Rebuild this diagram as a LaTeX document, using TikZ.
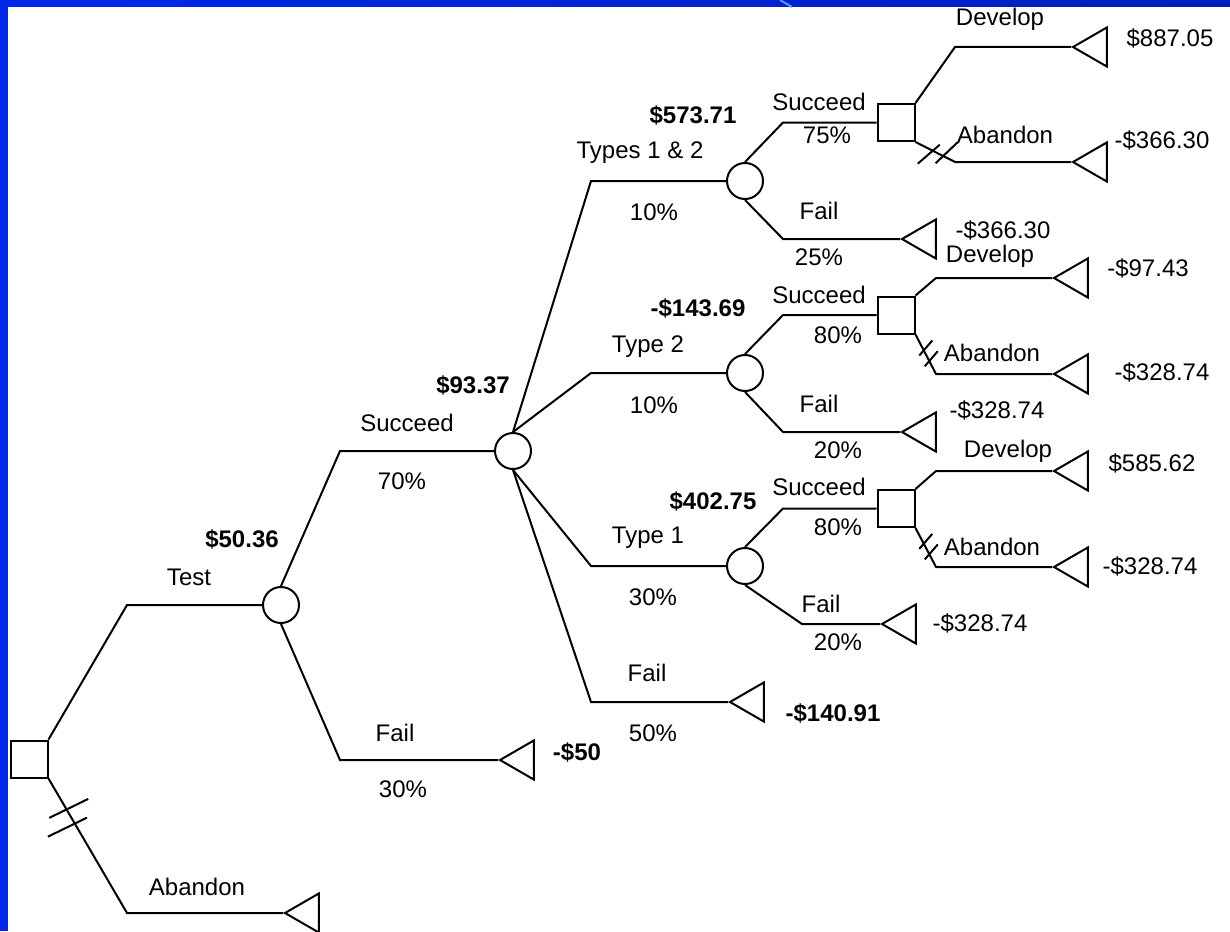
\documentclass[tikz,border=0pt]{standalone}
\usepackage{fontspec}
\setmainfont{Liberation Sans}
\usetikzlibrary{shapes.geometric,calc}
\definecolor{framebl}{RGB}{0,40,235}
\definecolor{framedk}{RGB}{0,30,190}
\definecolor{swoosh}{RGB}{90,150,255}
\tikzset{
  chance/.style={circle,draw,line width=1pt,minimum size=18pt,inner sep=0pt},
  decision/.style={rectangle,draw,line width=1pt,minimum size=18.5pt,inner sep=0pt},
  payoff/.style={regular polygon,regular polygon sides=3,shape border rotate=90,draw,line width=1pt,minimum size=22.5pt,inner sep=0pt,anchor=corner 1},
  lbl/.style={font=\fontsize{12}{14}\selectfont,inner sep=0pt},
  val/.style={font=\fontsize{12}{14}\selectfont\bfseries,inner sep=0pt},
  branch/.style={line width=1pt},
  hash/.style={line width=1pt}
}
\begin{document}
\begin{tikzpicture}[x=0.5pt,y=-0.5pt]
\useasboundingbox (0,0) rectangle (1230,931);
% frame
\fill[framebl] (0,0) rectangle (8,931);
\shade[left color=framebl,right color=framedk] (0,0) rectangle (1230,7);
\draw[swoosh,line width=1pt] (780,0) -- (792,7);
% decision and chance nodes
\node[decision] (d0) at (29,759) {};
\node[chance] (c1) at (281,605) {};
\node[chance] (c2) at (513,451) {};
\node[chance] (c3) at (745,181) {};
\node[chance] (c4) at (745,373) {};
\node[chance] (c5) at (745,566) {};
\node[decision] (d1) at (896,122.5) {};
\node[decision] (d2) at (896,315) {};
\node[decision] (d3) at (896,508.5) {};
% payoffs
\node[payoff] (t0) at (283,913) {};
\node[payoff] (t1) at (498,760) {};
\node[payoff] (t2) at (728,702) {};
\node[payoff] (t3) at (900,239) {};
\node[payoff] (t4) at (1071,47) {};
\node[payoff] (t5) at (1071,162) {};
\node[payoff] (t6) at (900,432) {};
\node[payoff] (t7) at (1052,278) {};
\node[payoff] (t8) at (1052,374) {};
\node[payoff] (t9) at (880,624) {};
\node[payoff] (t10) at (1052,471) {};
\node[payoff] (t11) at (1052,567) {};
% kink columns
\coordinate (k0) at (127,0);
\coordinate (k1) at (340,0);
\coordinate (k2) at (591,0);
\coordinate (k3) at (783,0);
\coordinate (k4) at (802,0);
\coordinate (k5) at (955,0);
\coordinate (k6) at (936,0);
% branches
\draw[branch] (d0.north east) -- (k0 |- c1) -- (c1);
\draw[branch] (d0.south east) -- (k0 |- t0.corner 1) -- (t0.corner 1);
\draw[branch] (c1.north) -- (k1 |- c2) -- (c2);
\draw[branch] (c1.south) -- (k1 |- t1.corner 1) -- (t1.corner 1);
\draw[branch] (c2.north) -- (k2 |- c3) -- (c3);
\draw[branch] (c2.north) -- (k2 |- c4) -- (c4);
\draw[branch] (c2.south) -- (k2 |- c5) -- (c5);
\draw[branch] (c2.south) -- (k2 |- t2.corner 1) -- (t2.corner 1);
\draw[branch] (c3.north) -- (k3 |- d1) -- (d1);
\draw[branch] (c3.south) -- (k3 |- t3.corner 1) -- (t3.corner 1);
\draw[branch] (c4.north) -- (k3 |- d2) -- (d2);
\draw[branch] (c4.south) -- (k3 |- t6.corner 1) -- (t6.corner 1);
\draw[branch] (c5.north) -- (k3 |- d3) -- (d3);
\draw[branch] (c5.south) -- (k4 |- t9.corner 1) -- (t9.corner 1);
\draw[branch] (d1.north east) -- (k5 |- t4.corner 1) -- (t4.corner 1);
\draw[branch] (d1.south east) -- (k5 |- t5.corner 1) -- (t5.corner 1);
\draw[branch] (d2.north east) -- (k6 |- t7.corner 1) -- (t7.corner 1);
\draw[branch] (d2.south east) -- (k6 |- t8.corner 1) -- (t8.corner 1);
\draw[branch] (d3.north east) -- (k6 |- t10.corner 1) -- (t10.corner 1);
\draw[branch] (d3.south east) -- (k6 |- t11.corner 1) -- (t11.corner 1);
% hash marks on abandoned branches
\draw[hash] ($(d0.south east)!0.226!(k0 |- t0.corner 1)$) +(-17,9) -- +(22,-10);
\draw[hash] ($(d0.south east)!0.336!(k0 |- t0.corner 1)$) +(-27,13) -- +(12,-6);
\draw[hash] ($(d1.south east)!0.436!(k5 |- t5.corner 1)$) +(-15,13) -- +(7,-6);
\draw[hash] ($(d1.south east)!0.712!(k5 |- t5.corner 1)$) +(-8,7) -- +(14,-14);
\draw[hash] ($(d2.south east)!0.33!(k6 |- t8.corner 1)$) +(-3,8) -- +(10,-7);
\draw[hash] ($(d2.south east)!0.6!(k6 |- t8.corner 1)$) +(-3,8) -- +(10,-7);
\draw[hash] ($(d3.south east)!0.33!(k6 |- t11.corner 1)$) +(-3,8) -- +(10,-7);
\draw[hash] ($(d3.south east)!0.6!(k6 |- t11.corner 1)$) +(-3,8) -- +(10,-7);
% labels: root
\node[lbl] (lTest) at (189,577) {Test};
\node[val] (vC1) at (242,539) {\$50.36};
\node[lbl] (lAb0) at (197,887) {Abandon};
% labels: first chance
\node[lbl] (lSuc1) at (407,423) {Succeed};
\node[lbl] (pSuc1) at (402,481) {70\%};
\node[lbl] (lFail1) at (395,733) {Fail};
\node[lbl] (pFail1) at (403,789) {30\%};
\node[val] (vC2) at (473,385) {\$93.37};
\node[val] (vT1) at (577,752) {-\$50};
% labels: second chance
\node[lbl] (lT12) at (640,153) {Types 1 \& 2};
\node[lbl] (pT12) at (654,212) {10\%};
\node[val] (vC3) at (693,115) {\$573.71};
\node[lbl] (lT2) at (648,347) {Type 2};
\node[lbl] (pT2) at (654,405) {10\%};
\node[val] (vC4) at (698,308) {-\$143.69};
\node[lbl] (lT1) at (648,538) {Type 1};
\node[lbl] (pT1) at (653,597) {30\%};
\node[val] (vC5) at (713,501) {\$402.75};
\node[lbl] (lFail2) at (647,673) {Fail};
\node[lbl] (pFail2) at (653,733) {50\%};
\node[val] (vT2) at (833,713) {-\$140.91};
% labels: types 1 & 2
\node[lbl] (lSuc3) at (819,102) {Succeed};
\node[lbl] (pSuc3) at (827,135) {75\%};
\node[lbl] (lFail3) at (819,211) {Fail};
\node[lbl] (pFail3) at (819,257) {25\%};
\node[lbl] (vT3) at (1003,230) {-\$366.30};
\node[lbl] (lDev1) at (1000,19) {Develop};
\node[lbl] (vT4) at (1170,38) {\$887.05};
\node[lbl] (lAb1) at (1005,135) {Abandon};
\node[lbl] (vT5) at (1162,140) {-\$366.30};
% labels: type 2
\node[lbl] (lSuc4) at (819,295) {Succeed};
\node[lbl] (pSuc4) at (838,335) {80\%};
\node[lbl] (lFail4) at (819,404) {Fail};
\node[lbl] (pFail4) at (838,450) {20\%};
\node[lbl] (vT6) at (997,410) {-\$328.74};
\node[lbl] (lDev2) at (990,256) {Develop};
\node[lbl] (vT7) at (1148,268) {-\$97.43};
\node[lbl] (lAb2) at (992,353) {Abandon};
\node[lbl] (vT8) at (1162,372) {-\$328.74};
% labels: type 1
\node[lbl] (lSuc5) at (819,487) {Succeed};
\node[lbl] (pSuc5) at (838,527) {80\%};
\node[lbl] (lFail5) at (821,604) {Fail};
\node[lbl] (pFail5) at (838,642) {20\%};
\node[lbl] (vT9) at (980,623) {-\$328.74};
\node[lbl] (lDev3) at (1008,451) {Develop};
\node[lbl] (vT10) at (1152,463) {\$585.62};
\node[lbl] (lAb3) at (992,547) {Abandon};
\node[lbl] (vT11) at (1150,566) {-\$328.74};
\end{tikzpicture}
\end{document}
